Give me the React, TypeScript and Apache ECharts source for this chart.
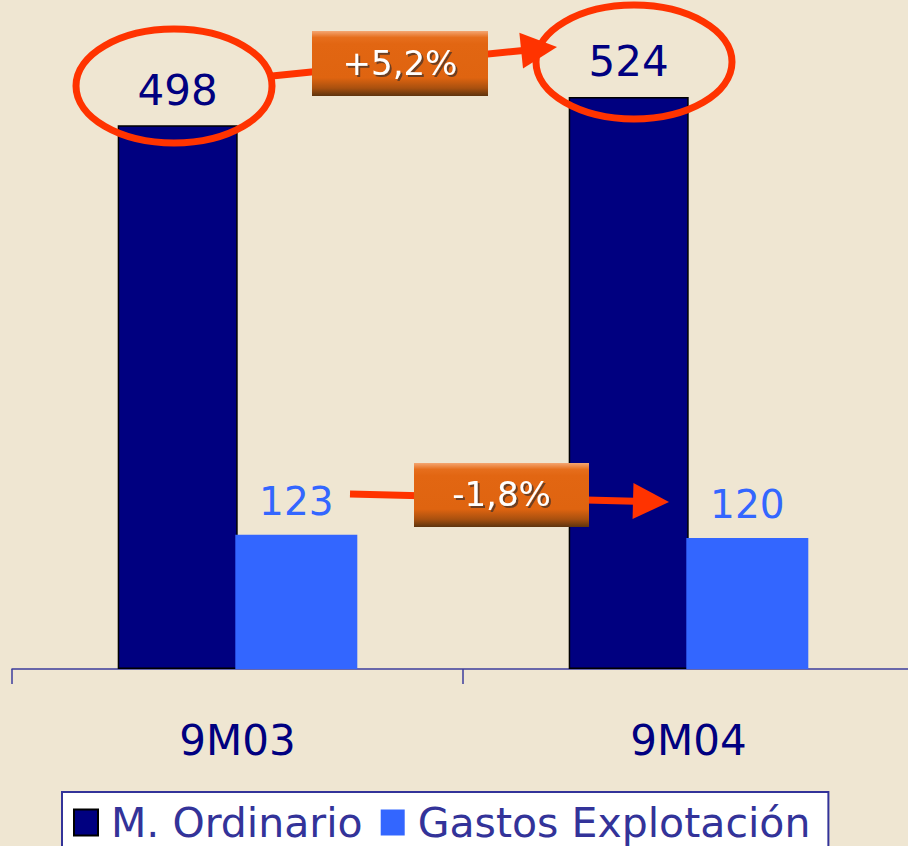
import React, { useEffect, useRef } from 'react';
import * as echarts from 'echarts';

const categories = ['9M03', '9M04'];
const seriesNames = ['M. Ordinario', 'Gastos Explotación'];
const mOrdinario = [498, 524];
const gastosExplotacion = [123, 120];
const changeLabels = ['+5,2%', '-1,8%'];

const FONT = '"DejaVu Sans", Verdana, sans-serif';
const RED = '#FF3300';

function arrow(x1: number, y1: number, x2: number, y2: number, z: number) {
  const dx = x2 - x1;
  const dy = y2 - y1;
  const len = Math.sqrt(dx * dx + dy * dy);
  const ux = dx / len;
  const uy = dy / len;
  const hl = 36;
  const hw = 18;
  const bx = x2 - ux * hl;
  const by = y2 - uy * hl;
  return [
    {
      type: 'line',
      z,
      shape: { x1, y1, x2: bx + ux * 2, y2: by + uy * 2 },
      style: { stroke: RED, lineWidth: 7 },
    },
    {
      type: 'polygon',
      z,
      shape: {
        points: [
          [x2, y2],
          [bx - uy * hw, by + ux * hw],
          [bx + uy * hw, by - ux * hw],
        ],
      },
      style: { fill: RED },
    },
  ];
}

function box(x: number, y: number, w: number, h: number, text: string, z: number) {
  return [
    {
      type: 'rect',
      z,
      shape: { x, y, width: w, height: h },
      style: {
        fill: new echarts.graphic.LinearGradient(0, 0, 0, 1, [
          { offset: 0, color: '#F4A672' },
          { offset: 0.1, color: '#E66E1C' },
          { offset: 0.2, color: '#E26612' },
          { offset: 0.72, color: '#DF6410' },
          { offset: 0.88, color: '#A8500F' },
          { offset: 1, color: '#5E340E' },
        ]),
      },
    },
    {
      type: 'text',
      z: z + 1,
      x: x + w / 2,
      y: y + h / 2 - 1,
      style: {
        text,
        fill: '#FFFFFF',
        font: '34px ' + FONT,
        align: 'center',
        verticalAlign: 'middle',
        textShadowColor: 'rgba(70,50,40,0.75)',
        textShadowOffsetX: 2,
        textShadowOffsetY: 2,
        textShadowBlur: 1,
      },
    },
  ];
}

export default function App() {
  const ref = useRef<HTMLDivElement>(null);

  useEffect(() => {
    if (!ref.current) return;
    const chart = echarts.init(ref.current, null, { renderer: 'svg' });

    const graphic: any[] = [
      {
        type: 'ellipse',
        z: 10,
        shape: { cx: 174, cy: 86, rx: 98, ry: 57 },
        style: { fill: 'none', stroke: RED, lineWidth: 7 },
      },
      {
        type: 'ellipse',
        z: 10,
        shape: { cx: 634, cy: 62, rx: 98, ry: 57 },
        style: { fill: 'none', stroke: RED, lineWidth: 7 },
      },
      ...arrow(272, 76, 557, 47, 11),
      ...box(312, 31, 176, 65, changeLabels[0], 12),
      ...arrow(350, 494, 669, 502, 11),
      ...box(414, 463, 175, 64, changeLabels[1], 12),
    ];

    chart.setOption({
      animation: false,
      backgroundColor: '#EFE6D2',
      grid: { left: 12, right: 6, top: 14, bottom: 177, containLabel: false },
      legend: {
        data: seriesNames,
        left: 62,
        top: 792,
        orient: 'horizontal',
        icon: 'rect',
        itemWidth: 24,
        itemHeight: 26,
        itemGap: 18,
        padding: [10, 18, 30, 11],
        backgroundColor: '#FFFFFF',
        borderColor: '#333399',
        borderWidth: 2,
        selectedMode: false,
        textStyle: {
          fontSize: 41,
          color: '#333399',
          fontFamily: FONT,
          padding: [0, 0, 0, 8],
        },
      },
      xAxis: {
        type: 'category',
        data: categories,
        axisLine: { lineStyle: { color: '#3C3C9C', width: 1.5 } },
        axisTick: { show: true, length: 15, lineStyle: { color: '#3C3C9C', width: 1.5 } },
        axisLabel: { fontSize: 42, color: '#000080', margin: 50, fontFamily: FONT },
      },
      yAxis: {
        type: 'value',
        min: 0,
        max: 600,
        show: false,
        splitLine: { show: false },
      },
      series: [
        {
          name: seriesNames[0],
          type: 'bar',
          data: mOrdinario,
          barWidth: 120,
          barGap: '-2%',
          itemStyle: { color: '#000080', borderColor: '#000000', borderWidth: 1.5 },
          label: {
            show: true,
            position: 'top',
            distance: 14,
            fontSize: 42,
            color: '#000080',
            fontFamily: FONT,
          },
        },
        {
          name: seriesNames[1],
          type: 'bar',
          data: gastosExplotacion,
          barWidth: 122,
          itemStyle: { color: '#3366FF' },
          label: {
            show: true,
            position: 'top',
            distance: 14,
            fontSize: 39,
            color: '#3366FF',
            fontFamily: FONT,
          },
        },
      ],
      graphic,
    });

    return () => chart.dispose();
  }, []);

  return (
    <div
      style={{
        position: 'fixed',
        left: 0,
        top: 0,
        width: 908,
        height: 846,
        overflow: 'hidden',
      }}
    >
      <div ref={ref} style={{ width: 920, height: 846 }} />
    </div>
  );
}
